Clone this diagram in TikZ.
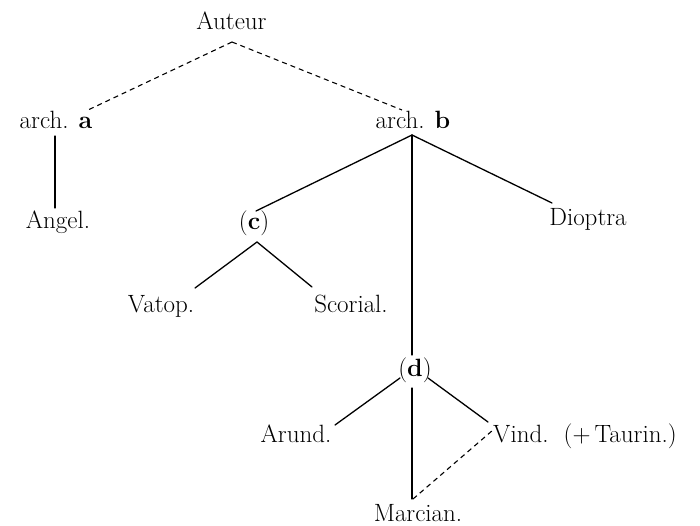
\documentclass[tikz,border=0pt]{standalone}
\usetikzlibrary{calc}
\begin{document}
\begin{tikzpicture}[x=1pt,y=-1pt,
  lbl/.style={anchor=base,inner sep=0pt,font=\fontsize{25}{30}\selectfont},
  solidline/.style={line width=1.3pt,line cap=round},
  dashline/.style={line width=1.1pt,dash pattern=on 5pt off 4pt}]
\fill[white] (0,0) rectangle (700,526);
\useasboundingbox (0,0) rectangle (700,526);
% nodes
\node[lbl] (auteur) at (231.5,30) {Auteur};
\node[lbl] (archa) at (56,129) {arch. \textbf{a}};
\node[lbl] (archb) at (413,129) {arch. \textbf{b}};
\node[lbl] (angel) at (58,229) {Angel.};
\node[lbl] (c) at (254,230) {(\textbf{c})};
\node[lbl] (dioptra) at (588,226) {Dioptra};
\node[lbl] (vatop) at (161,312) {Vatop.};
\node[lbl] (scorial) at (351,312) {Scorial.};
\node[lbl] (d) at (415,376) {(\textbf{d})};
\node[lbl] (arund) at (296,442) {Arund.};
\node[lbl,anchor=base west] (vind) at (493,442) {Vind.\ \ (+\,Taurin.)};
\node[lbl] (marcian) at (418,521) {Marcian.};
% connectors
\draw[dashline] ($(auteur.base)+(0.5,12)$) -- ($(archa.base)+(32,-19)$);
\draw[dashline] ($(auteur.base)+(0.5,12)$) -- ($(archb.base)+(-11,-19)$);
\draw[solidline] ($(archa.base)+(-1,7)$) -- ($(angel.base)+(-3,-21)$);
\draw[solidline] ($(archb.base)+(-1,6)$) -- ($(c.base)+(2,-19)$);
\draw[solidline] ($(archb.base)+(-1,6)$) -- ($(dioptra.base)+(-36,-23)$);
\draw[solidline] ($(archb.base)+(-1,6)$) -- ($(d.base)+(-3,-21)$);
\draw[solidline] ($(c.base)+(3,12)$) -- ($(vatop.base)+(34,-24)$);
\draw[solidline] ($(c.base)+(3,12)$) -- ($(scorial.base)+(-39,-25)$);
\draw[solidline] ($(d.base)+(-15,2)$) -- ($(arund.base)+(39,-17)$);
\draw[solidline] ($(d.base)+(13,2)$) -- ($(vind.base west)+(-5,-20)$);
\draw[solidline] ($(d.base)+(-3,12)$) -- ($(marcian.base)+(-6,-22)$);
\draw[dashline] ($(marcian.base)+(-5,-22)$) -- ($(vind.base west)+(0,-12)$);
\end{tikzpicture}
\end{document}
